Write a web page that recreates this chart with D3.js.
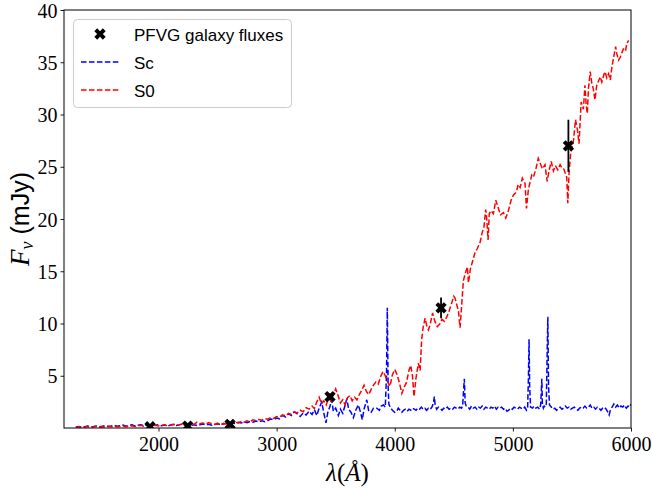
<!DOCTYPE html>
<html><head><meta charset="utf-8">
<script src="https://cdn.jsdelivr.net/npm/d3@7"></script>
<style>html,body{margin:0;padding:0;background:#fff;} svg{display:block}</style>
</head><body><svg id="c" width="652" height="492"></svg>
<script>
// ---- data ----
const s0Wave = [1300,1325,1350,1375,1400,1425,1450,1475,1500,1525,1550,1575,1600,1625,1650,1675,1700,1725,1750,1775,1800,1825,1850,1875,1900,1925,1950,1975,2000,2025,2050,2075,2100,2125,2150,2175,2200,2225,2250,2275,2300,2325,2350,2375,2400,2425,2450,2475,2500,2525,2550,2575,2600,2625,2650,2675,2700,2725,2750,2775,2800,2825,2850,2875,2900,2925,2950,2975,3000,3025,3050,3075,3100,3125,3150,3175,3200,3225,3250,3275,3300,3320,3340,3360,3380,3400,3420,3440,3460,3480,3500,3520,3540,3560,3580,3600,3620,3640,3660,3680,3700,3720,3740,3760,3780,3800,3820,3840,3860,3880,3900,3920,3940,3960,3980,4000,4020,4040,4060,4080,4100,4120,4135,4150,4163,4180,4200,4215,4228,4240,4257,4270,4285,4300,4320,4340,4360,4384,4400,4420,4440,4460,4480,4500,4511,4525,4539,4553,4565,4581,4600,4615,4624,4640,4660,4680,4700,4723,4740,4755,4770,4779,4790,4800,4815,4835,4855,4878,4895,4920,4940,4962,4985,5005,5030,5045,5061,5080,5103,5115,5131,5145,5160,5174,5195,5215,5236,5250,5272,5290,5310,5325,5343,5360,5380,5400,5414,5430,5456,5465,5476,5490,5513,5530,5547,5560,5578,5597,5610,5620,5630,5640,5655,5668,5680,5695,5710,5725,5740,5753,5770,5780,5795,5810,5825,5838,5855,5870,5880,5895,5910,5922,5940,5955,5965,5980,6000];
const s0Flux = [0.08,0.12,0.06,0.10,0.14,0.08,0.11,0.15,0.09,0.13,0.10,0.16,0.12,0.18,0.11,0.15,0.20,0.13,0.17,0.22,0.15,0.19,0.25,0.18,0.22,0.16,0.20,0.26,0.19,0.24,0.30,0.22,0.28,0.35,0.27,0.32,0.38,0.30,0.36,0.45,0.33,0.55,0.40,0.48,0.36,0.52,0.42,0.35,0.46,0.30,0.44,0.38,0.50,0.42,0.56,0.48,0.62,0.55,0.68,0.60,0.78,0.70,0.82,0.74,0.90,0.85,1.00,0.92,1.10,1.05,1.25,1.15,1.40,1.30,1.55,1.45,1.70,1.55,1.95,1.80,2.10,1.85,2.50,2.95,2.30,2.60,2.20,2.90,2.55,3.20,3.75,3.10,2.40,2.70,2.20,2.90,3.10,2.60,2.95,2.70,3.20,3.60,4.10,3.50,3.20,3.70,4.10,4.40,4.20,4.90,5.40,5.00,4.40,4.00,5.10,5.60,5.10,4.30,3.30,3.90,4.40,5.50,6.00,5.00,3.00,4.80,6.20,5.50,8.50,9.60,10.50,9.80,9.40,9.90,11.00,10.20,9.70,10.00,10.40,10.20,10.60,11.20,11.90,12.60,12.40,11.80,11.20,9.60,11.50,14.10,14.90,15.40,13.90,15.20,16.00,16.80,17.20,17.80,18.70,19.20,20.90,20.00,18.00,20.50,20.80,20.50,21.80,21.00,20.40,20.60,20.10,20.80,21.80,22.30,22.60,23.30,23.00,23.90,23.40,21.00,22.80,23.50,24.20,24.00,24.80,25.80,25.20,24.80,25.20,23.60,24.80,25.50,24.60,25.10,24.70,25.20,24.90,24.80,24.00,21.50,24.50,26.40,27.50,29.50,28.50,27.20,31.20,30.50,32.80,31.00,30.10,32.50,34.10,33.00,32.50,31.40,32.80,33.20,33.60,33.10,33.80,34.10,33.50,33.90,33.30,34.50,35.60,36.50,35.80,35.20,35.50,35.90,36.40,36.20,36.80,37.10];

const scWave = [1300,1325,1350,1375,1400,1425,1450,1475,1500,1525,1550,1575,1600,1625,1650,1675,1700,1725,1750,1775,1800,1825,1850,1875,1900,1925,1950,1975,2000,2025,2050,2075,2100,2125,2150,2175,2200,2225,2250,2275,2300,2325,2350,2375,2400,2425,2450,2475,2500,2525,2550,2575,2600,2625,2650,2675,2700,2725,2750,2775,2800,2825,2850,2875,2900,2925,2950,2975,3000,3025,3050,3075,3100,3125,3150,3175,3200,3225,3250,3275,3300,3320,3340,3360,3382,3400,3418,3435,3450,3466,3480,3500,3523,3540,3560,3580,3594,3610,3630,3650,3670,3692,3710,3725,3740,3763,3780,3800,3820,3848,3870,3885,3904,3920,3930,3937,3944,3950,3961,3980,4000,4017,4030,4045,4060,4075,4090,4105,4120,4135,4150,4165,4180,4195,4210,4225,4240,4255,4270,4285,4300,4315,4328,4335,4342,4355,4370,4385,4400,4415,4430,4445,4460,4475,4490,4505,4520,4535,4550,4565,4575,4582,4589,4596,4605,4620,4635,4650,4665,4680,4695,4710,4725,4740,4755,4770,4785,4800,4815,4830,4845,4860,4875,4890,4905,4920,4935,4950,4965,4980,4995,5010,5025,5040,5055,5070,5085,5100,5115,5125,5132,5137,5142,5150,5165,5180,5195,5210,5225,5235,5241,5245,5250,5258,5265,5275,5283,5290,5296,5302,5310,5325,5340,5355,5370,5385,5400,5415,5430,5445,5460,5475,5490,5505,5520,5535,5550,5565,5580,5595,5610,5625,5640,5655,5670,5685,5700,5715,5730,5745,5760,5775,5790,5805,5815,5825,5840,5855,5870,5885,5900,5915,5930,5945,5960,5975,5990,6000];
const scFlux = [0.10,0.15,0.08,0.13,0.18,0.10,0.14,0.20,0.12,0.17,0.22,0.14,0.19,0.25,0.16,0.21,0.28,0.18,0.24,0.30,0.20,0.26,0.32,0.22,0.30,0.24,0.35,0.26,0.31,0.22,0.28,0.20,0.27,0.33,0.25,0.30,0.36,0.28,0.34,0.26,0.32,0.24,0.30,0.38,0.29,0.35,0.27,0.33,0.40,0.31,0.38,0.45,0.36,0.50,0.42,0.55,0.48,0.58,0.50,0.62,0.55,0.66,0.58,0.68,0.60,0.72,0.85,0.78,0.95,0.88,1.20,1.05,1.35,1.20,1.55,1.35,1.10,1.45,1.25,1.60,1.30,1.75,1.20,1.90,2.50,1.40,0.50,1.60,2.00,2.70,1.60,1.90,1.20,1.80,1.40,2.20,2.80,1.80,1.50,1.00,1.70,2.20,1.50,0.80,1.80,2.70,1.60,1.50,1.90,1.90,1.70,2.10,2.20,2.00,5.00,11.50,4.00,2.30,2.00,1.70,1.50,1.60,1.90,1.70,1.50,1.70,1.80,1.60,1.80,1.70,1.90,1.80,1.70,1.90,1.80,2.00,1.80,1.90,1.70,1.90,1.80,2.00,2.40,3.00,2.20,1.80,2.00,1.90,1.70,1.90,1.80,2.00,1.80,1.90,1.80,2.00,1.90,1.80,2.00,1.90,2.10,3.50,4.70,2.40,2.10,2.00,1.80,2.10,1.90,2.00,1.80,2.00,1.90,2.10,1.80,2.00,1.90,1.80,2.00,1.90,2.10,1.80,2.00,1.90,2.00,1.80,1.90,1.60,1.70,1.90,1.80,2.00,1.90,1.80,2.00,1.90,1.80,2.00,1.70,1.90,5.00,8.50,4.00,2.00,1.90,2.10,1.90,2.00,1.80,2.20,3.50,4.70,2.20,1.90,2.10,2.00,2.30,7.00,10.65,4.00,2.20,2.00,1.80,1.90,1.70,1.90,2.00,1.80,1.90,2.10,1.90,2.00,1.80,1.90,2.00,1.80,1.70,1.90,2.00,1.90,2.10,1.90,2.00,2.20,1.90,2.00,1.80,2.00,1.90,1.70,1.90,2.00,1.80,1.50,1.25,1.70,2.00,2.30,2.00,2.20,1.90,2.10,2.00,2.20,1.90,2.10,2.00,2.30];

const ptWave = [1928, 2247, 2606, 3452, 4392, 5470];
const ptFlux = [0.12, 0.18, 0.35, 3.0, 11.5, 27.0];
const ptErr  = [0.05, 0.05, 0.10, 0.3, 1.0, 2.5];

const xTicks = [2000, 3000, 4000, 5000, 6000];
const yTicks = [5, 10, 15, 20, 25, 30, 35, 40];
const legendLabels = ["PFVG galaxy fluxes", "Sc", "S0"];

// ---- layout ----
const L = 64, R = 631, T = 10, B = 428;
const svg = d3.select("#c");
const x = d3.scaleLinear().domain([1200, 6000]).range([L, R]);
const y = d3.scaleLinear().domain([0, 40]).range([B, T]);
const serif = "'Liberation Serif', 'Times New Roman', serif";
const sans = "'Liberation Sans', Arial, sans-serif";

svg.append("defs").append("clipPath").attr("id", "clip")
  .append("rect").attr("x", L).attr("y", T).attr("width", R - L).attr("height", B - T);

const plot = svg.append("g").attr("clip-path", "url(#clip)");
const line = d3.line().x(d => x(d[0])).y(d => y(d[1]));

const scData = scWave.map((w, i) => [w, scFlux[i]]);
const s0Data = s0Wave.map((w, i) => [w, s0Flux[i]]);

plot.append("path").datum(scData).attr("d", line)
  .attr("fill", "none").attr("stroke", "#0000ff").attr("stroke-width", 1.5)
  .attr("stroke-dasharray", "5.55,2.4");
plot.append("path").datum(s0Data).attr("d", line)
  .attr("fill", "none").attr("stroke", "#ff0000").attr("stroke-width", 1.5)
  .attr("stroke-dasharray", "5.55,2.4");

// X filled marker (matplotlib 'X')
function xMarker(ms) {
  const v = [[-1,-3],[1,-3],[1,-1],[3,-1],[3,1],[1,1],[1,3],[-1,3],[-1,1],[-3,1],[-3,-1],[-1,-1]];
  const c = Math.SQRT1_2;
  const pts = v.map(([a, b]) => { const px = a / 6 * ms, py = b / 6 * ms; return [(px - py) * c, (px + py) * c]; });
  return "M" + pts.map(p => p[0].toFixed(2) + "," + p[1].toFixed(2)).join("L") + "Z";
}
const ms = 12;
const pts = ptWave.map((w, i) => ({w, f: ptFlux[i], e: ptErr[i]}));
plot.selectAll(".eb").data(pts).enter().append("line")
  .attr("x1", d => x(d.w)).attr("x2", d => x(d.w))
  .attr("y1", d => y(d.f - d.e)).attr("y2", d => y(d.f + d.e))
  .attr("stroke", "#000").attr("stroke-width", 1.8);
plot.selectAll(".mk").data(pts).enter().append("path")
  .attr("d", xMarker(ms))
  .attr("transform", d => `translate(${x(d.w)},${y(d.f)})`)
  .attr("fill", "#000");

// axes
const xAxis = d3.axisBottom(x).tickValues(xTicks).tickSize(3.5).tickPadding(5).tickFormat(d3.format("d"));
const yAxis = d3.axisLeft(y).tickValues(yTicks).tickSize(3.5).tickPadding(5).tickFormat(d3.format("d"));
const gx = svg.append("g").attr("transform", `translate(0,${B})`).call(xAxis);
const gy = svg.append("g").attr("transform", `translate(${L},0)`).call(yAxis);
[gx, gy].forEach(g => {
  g.select(".domain").remove();
  g.selectAll(".tick line").attr("stroke", "#000").attr("stroke-width", 0.9);
  g.selectAll(".tick text").attr("fill", "#000").style("font-family", serif).style("font-size", "20px");
});
gx.selectAll(".tick text").attr("dy", "0.71em").attr("y", 9);
gy.selectAll(".tick text").attr("x", -6.5).attr("dy", "0.35em");

svg.append("rect").attr("x", L).attr("y", T).attr("width", R - L).attr("height", B - T)
  .attr("fill", "none").attr("stroke", "#000").attr("stroke-width", 1);

// axis labels
const xl = svg.append("text").attr("x", (L + R) / 2).attr("y", 481).attr("text-anchor", "middle")
  .style("font-family", serif).style("font-size", "25px").attr("fill", "#000");
xl.append("tspan").style("font-style", "italic").text("λ");
xl.append("tspan").text("(");
xl.append("tspan").style("font-style", "italic").text("Å");
xl.append("tspan").text(")");

const yl = svg.append("text").attr("transform", `translate(29,${(T + B) / 2}) rotate(-90)`)
  .attr("text-anchor", "middle").style("font-size", "25px").attr("fill", "#000");
yl.append("tspan").style("font-family", serif).style("font-style", "italic").style("font-size", "27px").text("F");
yl.append("tspan").style("font-family", serif).style("font-style", "italic").style("font-size", "18px").attr("dy", 4).text("ν");
yl.append("tspan").style("font-family", sans).attr("dy", -4).text(" (mJy)");

// legend
const lg = svg.append("g");
lg.append("rect").attr("x", 73.5).attr("y", 19.5).attr("width", 218).attr("height", 88).attr("rx", 4)
  .attr("fill", "#fff").attr("fill-opacity", 0.8).attr("stroke", "#cccccc").attr("stroke-width", 1);
lg.append("path").attr("d", xMarker(ms)).attr("transform", "translate(100,34)").attr("fill", "#000");
lg.append("line").attr("x1", 81).attr("x2", 119).attr("y1", 62).attr("y2", 62)
  .attr("stroke", "#0000ff").attr("stroke-width", 1.5).attr("stroke-dasharray", "5.55,2.4");
lg.append("line").attr("x1", 81).attr("x2", 119).attr("y1", 90).attr("y2", 90)
  .attr("stroke", "#ff0000").attr("stroke-width", 1.5).attr("stroke-dasharray", "5.55,2.4");
const lgY = [40.7, 69, 97.3];
legendLabels.forEach((t, i) => {
  lg.append("text").attr("x", 134).attr("y", lgY[i]).text(t)
    .style("font-family", sans).style("font-size", "17px").attr("fill", "#000");
});
</script></body></html>
